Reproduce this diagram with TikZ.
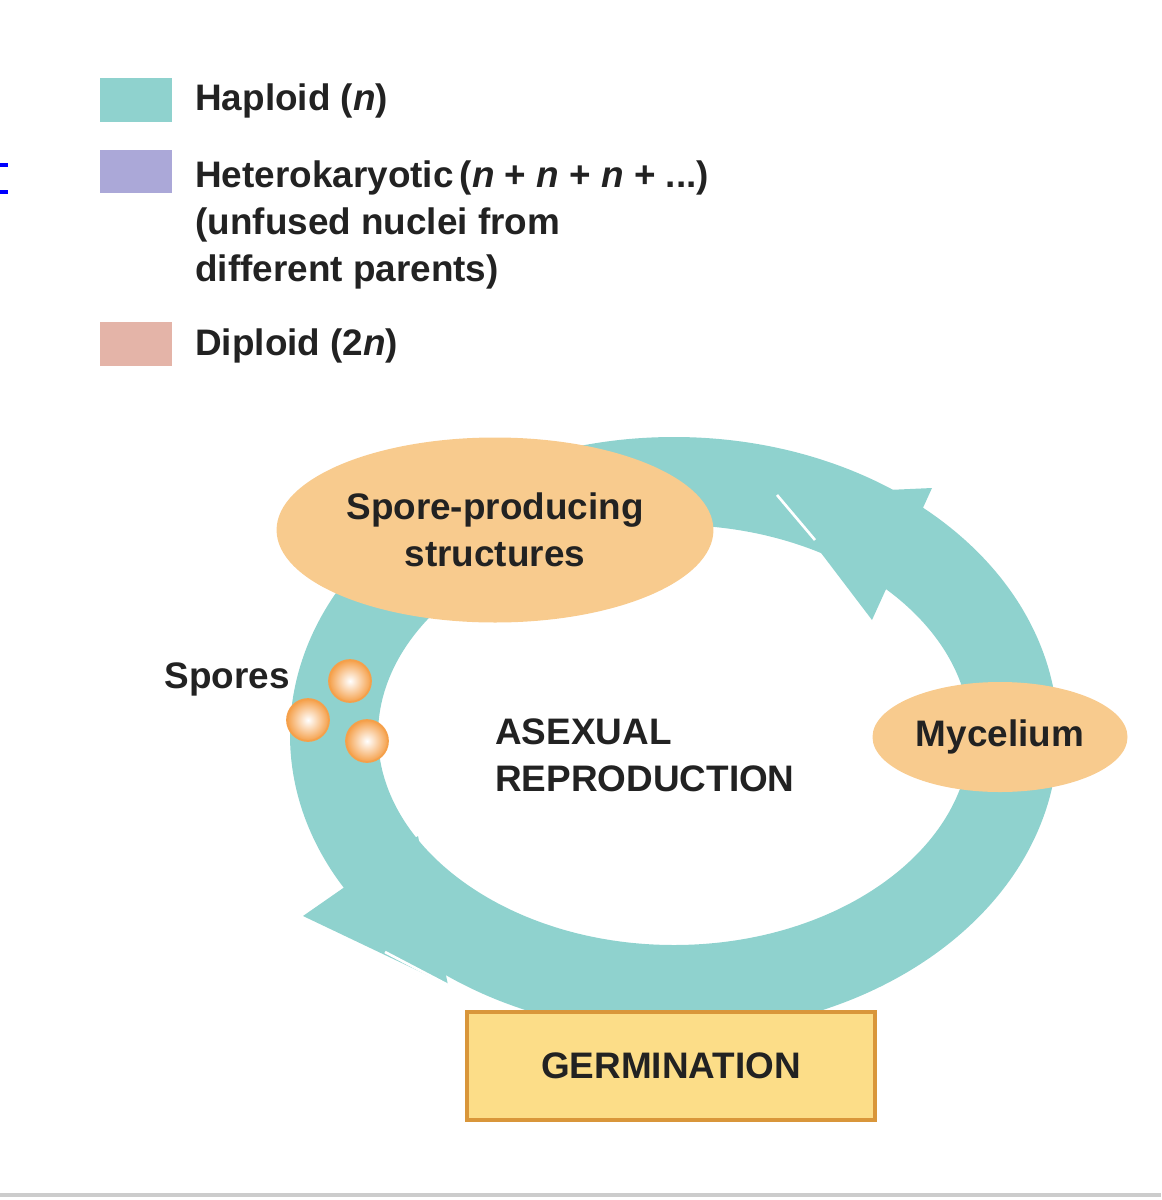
\documentclass[tikz,border=0pt]{standalone}
\usepackage{fontspec}
\setmainfont{Liberation Sans}
\usetikzlibrary{positioning,shapes.geometric}
\definecolor{haploid}{HTML}{8FD2CE}
\definecolor{hetero}{HTML}{ABA8D8}
\definecolor{diploid}{HTML}{E4B4A8}
\definecolor{stage}{HTML}{F8CB8E}
\definecolor{germ}{HTML}{FCDD88}
\definecolor{germedge}{HTML}{D9963A}
\definecolor{spore}{HTML}{F5A04A}
\definecolor{txt}{HTML}{222222}

\begin{document}
\begin{tikzpicture}[x=0.02cm,y=-0.02cm,
    legendbox/.style={fill=#1, draw=none},
    legendtxt/.style={anchor=west, font=\bfseries\fontsize{21}{27}\selectfont, text=txt, align=left, inner sep=0pt},
    stagenode/.style={ellipse, fill=stage, draw=none, font=\bfseries\fontsize{21}{27}\selectfont, text=txt, align=center},
    sporeball/.style={circle, draw=spore, line width=1pt, inner color=white, outer color=spore, minimum size=42*0.02cm, inner sep=0pt},
    lbl/.style={font=\bfseries\fontsize{21}{27}\selectfont, text=txt, align=left, inner sep=0pt}]
    \useasboundingbox (0,0) rectangle (1161,1200);

    % legend
    \draw[blue, line width=2pt] (0,165) -- (8,165) (0,192) -- (8,192);
    \fill[legendbox=haploid] (100,78) rectangle (172,122);
    \fill[legendbox=hetero] (100,150) rectangle (172,193);
    \fill[legendbox=diploid] (100,322) rectangle (172,366);
    \node[legendtxt] (hap) at (195,101) {Haploid (\textit{n})};
    \node[legendtxt, anchor=north west] (het) at (195,160) {Heterokaryotic\,(\textit{n} + \textit{n} + \textit{n} + ...)\\(unfused nuclei from\\different parents)};
    \node[legendtxt] (dip) at (195,346) {Diploid (2\textit{n})};

    % cycle ring
    \draw[haploid, line width=88*0.02cm] (674,735) ellipse (340 and 254);
    \fill[haploid] (777,495) -- (932,488) -- (872,620) -- cycle;
    \fill[haploid] (448,985) -- (303,916) -- (418,836) -- cycle;
    \draw[white, line width=1.5pt] (777,495) -- (815,540);
    \draw[white, line width=1.5pt] (448,985) -- (385,952);

    % stages
    \node[stagenode, minimum width=390*0.02cm, minimum height=185*0.02cm] (spp) at (495,530) {Spore-producing\\structures};
    \node[stagenode, minimum width=255*0.02cm, minimum height=110*0.02cm] (myc) at (1000,737) {Mycelium};
    \node[draw=germedge, line width=2pt, fill=germ, minimum width=408*0.02cm, minimum height=108*0.02cm,
          font=\bfseries\fontsize{21}{27}\selectfont, text=txt] (germ) at (671,1066) {GERMINATION};

    % spores
    \node[sporeball] (s1) at (350,681) {};
    \node[sporeball] (s2) at (308,720) {};
    \node[sporeball] (s3) at (367,741) {};
    \node[lbl, anchor=east] (spores) at (290,679) {Spores};

    \node[lbl, anchor=north west] (asex) at (495,718) {ASEXUAL\\REPRODUCTION};

    \draw[gray!40, line width=2pt] (0,1195) -- (1161,1195);
\end{tikzpicture}
\end{document}
